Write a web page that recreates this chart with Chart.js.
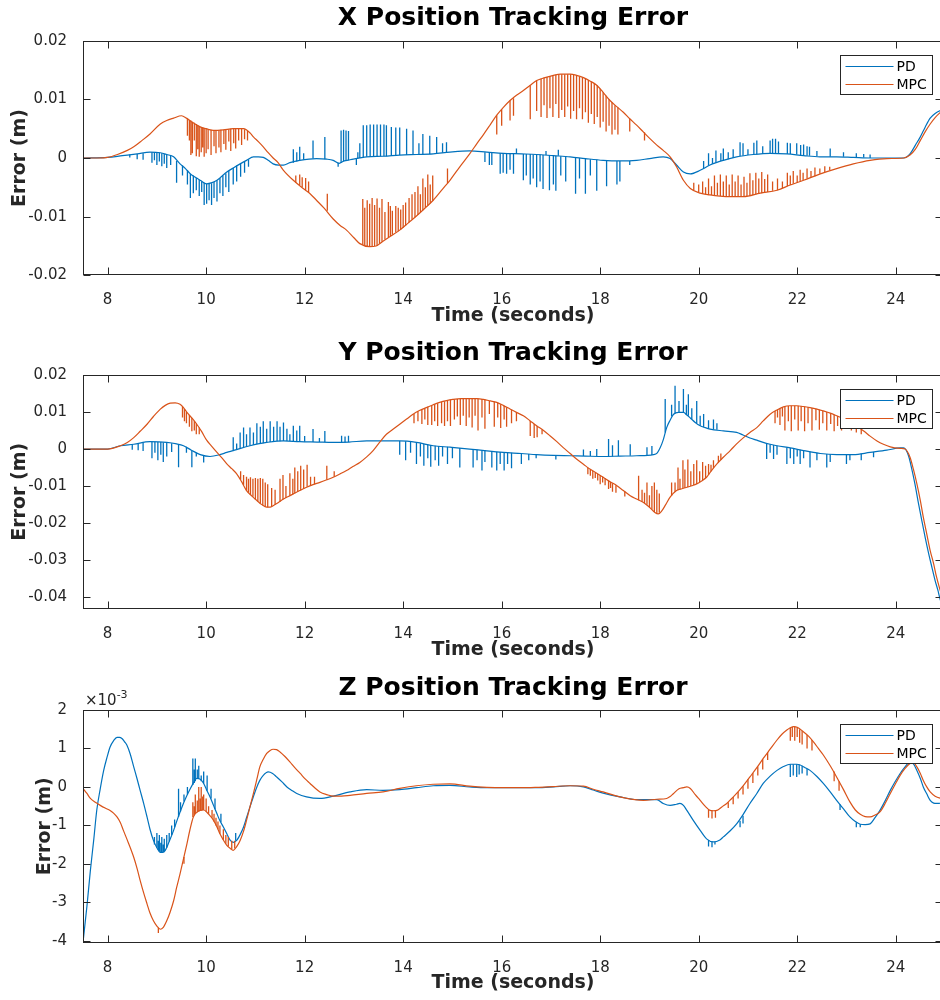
<!DOCTYPE html>
<html>
<head>
<meta charset="utf-8">
<script src="https://cdn.jsdelivr.net/npm/chart.js@4/dist/chart.umd.min.js"></script>
<style>
html,body{margin:0;padding:0;background:#fff;overflow:hidden;width:940px;height:1000px;position:relative}
.pane{position:absolute;left:0;width:944px}
canvas{display:block}
</style>
</head>
<body>
<div class="pane" style="top:0px;height:330px"><canvas id="cX" width="944" height="330"></canvas></div>
<div class="pane" style="top:330px;height:335px"><canvas id="cY" width="944" height="335"></canvas></div>
<div class="pane" style="top:665px;height:335px"><canvas id="cZ" width="944" height="335"></canvas></div>
<script>
// ---------- axis ticks ----------
const timeTicks = [8, 10, 12, 14, 16, 18, 20, 22, 24];
const timeTickLabels = ['8', '10', '12', '14', '16', '18', '20', '22', '24'];
const xErrTicks = [-0.02, -0.01, 0, 0.01, 0.02];
const xErrTickLabels = ['-0.02', '-0.01', '0', '0.01', '0.02'];
const yErrTicks = [-0.04, -0.03, -0.02, -0.01, 0, 0.01, 0.02];
const yErrTickLabels = ['-0.04', '-0.03', '-0.02', '-0.01', '0', '0.01', '0.02'];
const zErrTicks = [-4, -3, -2, -1, 0, 1, 2];           // in units of 1e-3 m
const zErrTickLabels = ['-4', '-3', '-2', '-1', '0', '1', '2'];
const seriesNames = ['PD', 'MPC'];

// ---------- X error (m): [time s, error] ----------
const xPD = [[7.5,0],[8.0,0.0001],[8.3,0.0004],[8.6,0.0007],[8.86,0.001],[9.07,0.0009],[9.2,0.0006],[9.34,0.0002],[9.47,-0.001],[9.58,-0.0018],[9.68,-0.0027],[9.78,-0.0033],[9.88,-0.0038],[10.01,-0.0044],[10.12,-0.0042],[10.22,-0.0038],[10.32,-0.0031],[10.42,-0.0024],[10.55,-0.0017],[10.69,-0.001],[10.82,-0.0004],[10.96,0.0002],[11.06,0.0002],[11.16,0.0001],[11.26,-0.0004],[11.36,-0.001],[11.47,-0.0012],[11.57,-0.0012],[11.7,-0.0008],[11.9,-0.0004],[12.24,-0.0001],[12.45,-0.0002],[12.58,-0.0004],[12.7,-0.0009],[12.8,-0.0005],[12.92,-0.0003],[13.26,0.0002],[13.6,0.0003],[13.93,0.0005],[14.27,0.0006],[14.61,0.0007],[14.95,0.001],[15.35,0.0012],[15.7,0.001],[16.03,0.0008],[16.4,0.0007],[16.71,0.0006],[17.05,0.0004],[17.39,0.0002],[17.7,-0.0001],[18.06,-0.0004],[18.4,-0.0005],[18.74,-0.0004],[19.0,-0.0001],[19.28,0.0002],[19.42,-0.0001],[19.55,-0.0012],[19.69,-0.0024],[19.83,-0.0027],[20.03,-0.0021],[20.23,-0.0012],[20.5,-0.0004],[20.77,0.0002],[21.11,0.0006],[21.45,0.0008],[21.79,0.0007],[22.13,0.0004],[22.46,0.0002],[22.8,0.0002],[23.14,0.0001],[23.48,0],[23.82,0],[24.16,0],[24.29,0.0007],[24.4,0.0022],[24.5,0.0036],[24.6,0.0053],[24.7,0.0068],[24.8,0.0076],[24.96,0.0083]];
// spikes: [time, local level, spike tip]
const xPDSpikes = [[8.45,0.0006,0.0001],[8.6,0.0007,-0.0002],[8.72,0.0008,-0.0003],[8.9,0.001,-0.0008],[8.95,0.001,-0.0004],[9.0,0.001,-0.0012],[9.05,0.0009,-0.0006],[9.1,0.0008,-0.0014],[9.15,0.0007,-0.001],[9.2,0.0006,-0.0017],[9.28,0.0004,-0.0012],[9.4,-0.0005,-0.0042],[9.52,-0.0013,-0.003],[9.62,-0.0021,-0.0045],[9.68,-0.0027,-0.0068],[9.74,-0.003,-0.006],[9.8,-0.0034,-0.0055],[9.86,-0.0037,-0.0065],[9.91,-0.004,-0.0058],[9.96,-0.0042,-0.008],[10.01,-0.0044,-0.0078],[10.06,-0.0043,-0.0072],[10.11,-0.0043,-0.008],[10.16,-0.0041,-0.0068],[10.22,-0.0038,-0.0074],[10.28,-0.0034,-0.006],[10.34,-0.003,-0.0065],[10.4,-0.0026,-0.005],[10.46,-0.0022,-0.0058],[10.55,-0.0017,-0.0045],[10.62,-0.0013,-0.004],[10.7,-0.001,-0.0032],[10.78,-0.0006,-0.0025],[10.86,-0.0002,-0.0015],[11.77,-0.0008,0.0015],[11.84,-0.0006,0.001],[11.9,-0.0004,0.0019],[11.98,-0.0003,0.0008],[12.17,-0.0001,0.003],[12.41,-0.0002,0.0036],[12.68,-0.0008,-0.0015],[12.74,-0.0008,0.0047],[12.79,-0.0006,0.0048],[12.84,-0.0005,0.0047],[12.89,-0.0004,0.0046],[13.05,-0.0001,-0.0012],[13.08,-0.0001,0.001],[13.12,0,0.0025],[13.19,0.0001,0.0056],[13.26,0.0002,0.0056],[13.33,0.0002,0.0057],[13.4,0.0003,0.0057],[13.47,0.0003,0.0057],[13.54,0.0003,0.0057],[13.61,0.0003,0.0057],[13.66,0.0003,0.0056],[13.76,0.0004,0.0053],[13.85,0.0004,0.0052],[13.93,0.0005,0.0052],[14.07,0.0005,0.005],[14.2,0.0006,0.0047],[14.32,0.0006,0.0025],[14.4,0.0006,0.0041],[14.54,0.0007,0.0038],[14.68,0.0008,0.0036],[14.8,0.0009,0.0025],[14.88,0.001,0.0027],[15.66,0.001,-0.0007],[15.75,0.001,-0.0012],[15.8,0.0009,-0.0012],[15.97,0.0008,-0.0027],[16.03,0.0008,-0.0025],[16.1,0.0008,-0.0027],[16.17,0.0008,-0.002],[16.24,0.0008,-0.0027],[16.3,0.0007,0.0016],[16.44,0.0007,-0.0038],[16.5,0.0007,-0.003],[16.58,0.0007,-0.0045],[16.64,0.0006,-0.0035],[16.71,0.0006,-0.005],[16.78,0.0006,-0.004],[16.84,0.0005,-0.0053],[16.9,0.0005,0.0012],[16.97,0.0005,-0.0055],[17.05,0.0004,-0.0045],[17.1,0.0004,-0.0056],[17.15,0.0004,0.0014],[17.2,0.0003,-0.003],[17.3,0.0003,-0.004],[17.5,0.0001,-0.0061],[17.58,0,-0.0035],[17.7,-0.0001,-0.0061],[17.8,-0.0002,-0.003],[17.93,-0.0003,-0.0056],[18.13,-0.0004,-0.0048],[18.34,-0.0005,-0.0045],[18.4,-0.0005,-0.004],[18.6,-0.0005,-0.0012],[20.1,-0.0018,-0.0005],[20.2,-0.0013,0.0008],[20.28,-0.001,0],[20.35,-0.0008,0.0013],[20.45,-0.0005,0.0008],[20.5,-0.0004,0.0016],[20.6,-0.0002,0.001],[20.7,0,0.0015],[20.84,0.0003,0.0027],[20.9,0.0004,0.0025],[21.0,0.0005,0.0015],[21.12,0.0006,0.0026],[21.18,0.0006,0.003],[21.3,0.0007,0.002],[21.45,0.0008,0.003],[21.5,0.0008,0.0033],[21.56,0.0008,0.0033],[21.62,0.0008,0.0028],[21.8,0.0007,0.0026],[21.86,0.0007,0.0025],[21.99,0.0006,0.0025],[22.07,0.0005,0.0022],[22.13,0.0005,0.0023],[22.2,0.0004,0.002],[22.25,0.0004,0.0019],[22.4,0.0003,0.0012],[22.67,0.0002,0.0016],[22.94,0.0002,0.001],[23.2,0.0001,0.0008],[23.35,0.0001,0.0007],[23.48,0,0.0006]];
const xMPC = [[7.5,0],[7.8,0],[8.0,0.0001],[8.2,0.0006],[8.4,0.0013],[8.53,0.0019],[8.7,0.003],[8.86,0.0041],[9.07,0.0058],[9.2,0.0064],[9.34,0.0068],[9.5,0.0072],[9.6,0.0068],[9.7,0.0062],[9.88,0.0053],[10.0,0.005],[10.15,0.0047],[10.35,0.0048],[10.55,0.005],[10.76,0.005],[10.9,0.0042],[10.96,0.0036],[11.06,0.0028],[11.16,0.0019],[11.26,0.0009],[11.36,0],[11.46,-0.0008],[11.57,-0.0021],[11.77,-0.0038],[11.97,-0.0052],[12.1,-0.006],[12.24,-0.0072],[12.4,-0.0086],[12.58,-0.0104],[12.72,-0.0115],[12.85,-0.0123],[13.0,-0.0136],[13.12,-0.0146],[13.32,-0.0151],[13.45,-0.015],[13.59,-0.0142],[13.75,-0.0133],[13.93,-0.0123],[14.1,-0.0111],[14.27,-0.0099],[14.45,-0.0085],[14.61,-0.0072],[14.8,-0.0053],[14.95,-0.0038],[15.15,-0.0015],[15.35,0.0007],[15.5,0.0025],[15.63,0.004],[15.77,0.0057],[15.9,0.0073],[16.03,0.0086],[16.17,0.0098],[16.3,0.0107],[16.44,0.0115],[16.58,0.0124],[16.71,0.0132],[16.88,0.0137],[17.05,0.0141],[17.2,0.0143],[17.39,0.0143],[17.52,0.0141],[17.66,0.0137],[17.8,0.0131],[17.93,0.0124],[18.06,0.0112],[18.2,0.0098],[18.33,0.0088],[18.47,0.0078],[18.6,0.0067],[18.74,0.0056],[18.88,0.0044],[19.01,0.0033],[19.15,0.0022],[19.28,0.0013],[19.42,0.0002],[19.55,-0.0015],[19.69,-0.0038],[19.83,-0.0052],[20.03,-0.006],[20.23,-0.0063],[20.43,-0.0065],[20.64,-0.0066],[20.91,-0.0066],[21.25,-0.006],[21.59,-0.0055],[21.86,-0.0046],[22.13,-0.0038],[22.47,-0.0027],[22.8,-0.0018],[23.14,-0.001],[23.48,-0.0004],[23.82,-0.0001],[24.16,0],[24.29,0.0005],[24.4,0.0015],[24.5,0.003],[24.6,0.0045],[24.7,0.0058],[24.8,0.0069],[24.96,0.0082]];
const xMPCSpikes = [[9.62,0.0067,0.0038],[9.66,0.0065,0.003],[9.69,0.0064,0.0005],[9.72,0.0062,0.0008],[9.76,0.006,0.003],[9.8,0.0058,0.0003],[9.83,0.0056,0.0015],[9.86,0.0054,0.0002],[9.9,0.0053,0.001],[9.93,0.0052,0.0018],[9.96,0.0051,0.0002],[10.0,0.005,0.0008],[10.04,0.0049,0.0015],[10.1,0.0048,0.0005],[10.16,0.0047,0.002],[10.2,0.0047,0.0008],[10.26,0.0047,0.0018],[10.3,0.0048,0.001],[10.36,0.0048,0.0024],[10.4,0.0049,0.0014],[10.46,0.0049,0.0028],[10.5,0.005,0.0012],[10.56,0.005,0.0025],[10.6,0.005,0.0016],[10.66,0.005,0.003],[10.72,0.005,0.0022],[10.78,0.0049,0.0032],[10.84,0.0046,0.003],[11.82,-0.0042,-0.003],[11.9,-0.0046,-0.0028],[11.95,-0.005,-0.0033],[12.02,-0.0055,-0.0034],[12.08,-0.0059,-0.004],[12.46,-0.009,-0.0061],[13.18,-0.0148,-0.007],[13.22,-0.0149,-0.0085],[13.27,-0.015,-0.0072],[13.32,-0.0151,-0.0078],[13.37,-0.0151,-0.0068],[13.42,-0.015,-0.008],[13.47,-0.0149,-0.0069],[13.52,-0.0146,-0.0085],[13.57,-0.0143,-0.007],[13.63,-0.0139,-0.0092],[13.7,-0.0135,-0.0075],[13.74,-0.0133,-0.0082],[13.78,-0.0131,-0.009],[13.85,-0.0127,-0.0082],[13.9,-0.0125,-0.0085],[13.95,-0.0122,-0.0088],[14.0,-0.0119,-0.008],[14.05,-0.0115,-0.0076],[14.12,-0.011,-0.0068],[14.18,-0.0105,-0.0062],[14.24,-0.0101,-0.0058],[14.3,-0.0097,-0.0048],[14.35,-0.0093,-0.0062],[14.4,-0.0089,-0.0035],[14.45,-0.0085,-0.005],[14.5,-0.0081,-0.0028],[14.55,-0.0077,-0.0045],[14.6,-0.0073,-0.003],[14.9,-0.0043,-0.0018],[15.9,0.0073,0.004],[16.0,0.0083,0.0055],[16.17,0.0098,0.0064],[16.24,0.0102,0.0072],[16.58,0.0124,0.0066],[16.71,0.0132,0.008],[16.8,0.0135,0.007],[16.86,0.0137,0.009],[16.92,0.0138,0.0068],[16.98,0.014,0.0085],[17.04,0.0141,0.007],[17.1,0.0142,0.0092],[17.16,0.0142,0.0068],[17.22,0.0143,0.0082],[17.28,0.0143,0.007],[17.34,0.0143,0.0088],[17.4,0.0143,0.0067],[17.46,0.0142,0.008],[17.52,0.0141,0.0066],[17.58,0.0139,0.0085],[17.64,0.0137,0.0066],[17.7,0.0135,0.0078],[17.76,0.0133,0.006],[17.82,0.013,0.0075],[17.88,0.0127,0.0058],[17.94,0.0124,0.007],[18.0,0.0118,0.0052],[18.06,0.0112,0.0062],[18.12,0.0106,0.0045],[18.18,0.01,0.0055],[18.24,0.0095,0.004],[18.3,0.009,0.0048],[18.36,0.0086,0.004],[18.6,0.0067,0.0045],[18.9,0.0044,0.003],[19.9,-0.0055,-0.0042],[20.0,-0.0059,-0.0045],[20.08,-0.0061,-0.004],[20.14,-0.0062,-0.005],[20.2,-0.0063,-0.0035],[20.26,-0.0063,-0.0048],[20.32,-0.0064,-0.003],[20.38,-0.0064,-0.0042],[20.44,-0.0065,-0.0028],[20.5,-0.0065,-0.004],[20.56,-0.0065,-0.003],[20.62,-0.0066,-0.0045],[20.68,-0.0066,-0.0028],[20.74,-0.0066,-0.004],[20.8,-0.0066,-0.003],[20.86,-0.0066,-0.0045],[20.92,-0.0066,-0.0032],[20.98,-0.0065,-0.0042],[21.04,-0.0064,-0.0026],[21.1,-0.0063,-0.0038],[21.16,-0.0062,-0.0025],[21.22,-0.0061,-0.0035],[21.28,-0.006,-0.0024],[21.34,-0.0059,-0.0036],[21.4,-0.0058,-0.0028],[21.5,-0.0056,-0.004],[21.6,-0.0055,-0.0035],[21.7,-0.0051,-0.004],[21.8,-0.0048,-0.0025],[21.86,-0.0046,-0.003],[21.92,-0.0044,-0.0022],[22.0,-0.0042,-0.003],[22.06,-0.004,-0.002],[22.12,-0.0038,-0.0025],[22.2,-0.0035,-0.0018],[22.28,-0.0033,-0.0022],[22.36,-0.0031,-0.0016],[22.46,-0.0027,-0.0018],[22.56,-0.0024,-0.0014],[22.66,-0.0021,-0.0015]];

// ---------- Y error (m) ----------
const yPD = [[7.5,0],[8.0,0],[8.26,0.0009],[8.53,0.0013],[8.86,0.002],[9.2,0.0018],[9.4,0.0014],[9.54,0.0009],[9.7,-0.0003],[9.88,-0.0015],[10.08,-0.002],[10.28,-0.0015],[10.42,-0.0009],[10.55,-0.0004],[10.7,0.0002],[10.89,0.0009],[11.05,0.0014],[11.23,0.0018],[11.57,0.0022],[11.9,0.002],[12.25,0.0019],[12.58,0.0018],[12.9,0.0019],[13.26,0.0022],[13.6,0.0022],[13.93,0.0022],[14.27,0.0018],[14.61,0.0009],[14.95,0.0005],[15.35,0],[15.7,-0.0005],[16.03,-0.0009],[16.4,-0.0012],[16.71,-0.0015],[17.05,-0.0017],[17.39,-0.0018],[17.7,-0.0019],[18.06,-0.002],[18.4,-0.0019],[18.74,-0.0018],[19.08,-0.0015],[19.16,-0.001],[19.22,0.0004],[19.28,0.0025],[19.35,0.0058],[19.42,0.0078],[19.49,0.0094],[19.59,0.0099],[19.69,0.0099],[19.76,0.0092],[19.83,0.0084],[19.93,0.0072],[20.03,0.0063],[20.13,0.0058],[20.23,0.0054],[20.5,0.0049],[20.77,0.0045],[20.9,0.0038],[21.04,0.003],[21.18,0.0024],[21.31,0.0018],[21.45,0.0013],[21.59,0.0009],[21.86,0.0003],[22.13,-0.0004],[22.47,-0.0012],[22.8,-0.0015],[23.14,-0.0015],[23.48,-0.0009],[23.82,-0.0003],[24.09,0.0003],[24.16,0.0003],[24.26,-0.0018],[24.32,-0.005],[24.39,-0.0094],[24.46,-0.0145],[24.53,-0.0193],[24.6,-0.024],[24.67,-0.0283],[24.74,-0.0322],[24.8,-0.0355],[24.86,-0.0383],[24.9,-0.0405],[24.96,-0.0428]];
const yPDSpikes = [[8.5,0.0013,-0.0002],[8.62,0.0015,-0.0003],[8.72,0.0017,-0.0005],[8.9,0.002,-0.0025],[8.96,0.002,-0.001],[9.02,0.0019,-0.003],[9.08,0.0019,-0.0015],[9.13,0.0018,-0.0035],[9.2,0.0018,-0.002],[9.3,0.0016,-0.0008],[9.44,0.0012,-0.0049],[9.6,0.0006,-0.001],[9.71,-0.0004,-0.0049],[9.8,-0.001,-0.002],[9.95,-0.0016,-0.0036],[10.55,-0.0004,0.0032],[10.62,-0.0001,0.0015],[10.69,0.0002,0.0045],[10.76,0.0005,0.0058],[10.82,0.0007,0.004],[10.89,0.0009,0.0058],[10.96,0.0011,0.0045],[11.03,0.0013,0.007],[11.1,0.0015,0.006],[11.16,0.0016,0.0075],[11.23,0.0018,0.0055],[11.3,0.0019,0.0075],[11.37,0.002,0.006],[11.44,0.0021,0.0075],[11.5,0.0021,0.006],[11.57,0.0022,0.0072],[11.64,0.0022,0.0055],[11.7,0.0022,0.004],[11.77,0.0021,0.0063],[11.84,0.0021,0.005],[11.9,0.002,0.0063],[12.0,0.002,0.0035],[12.17,0.0019,0.0054],[12.3,0.0019,0.003],[12.41,0.0019,0.0049],[12.75,0.0018,0.0036],[12.82,0.0018,0.0034],[12.89,0.0019,0.0036],[13.93,0.0022,-0.0015],[14.05,0.0021,-0.003],[14.15,0.002,-0.001],[14.27,0.0018,-0.004],[14.35,0.0016,-0.002],[14.42,0.0014,-0.0045],[14.5,0.0012,-0.0025],[14.56,0.0011,-0.0048],[14.65,0.0009,-0.003],[14.72,0.0008,-0.0045],[14.8,0.0007,-0.002],[14.9,0.0006,-0.004],[15.0,0.0005,-0.0025],[15.15,0.0003,-0.005],[15.42,-0.0001,-0.005],[15.5,-0.0002,-0.003],[15.6,-0.0004,-0.0058],[15.66,-0.0004,-0.0035],[15.8,-0.0006,-0.005],[15.9,-0.0007,-0.0058],[15.97,-0.0008,-0.004],[16.05,-0.0009,-0.0058],[16.12,-0.001,-0.004],[16.2,-0.001,-0.0052],[16.4,-0.0012,-0.004],[16.55,-0.0013,-0.003],[16.7,-0.0015,-0.0025],[17.1,-0.0017,-0.0028],[17.66,-0.0019,-0.0001],[17.8,-0.0019,-0.0005],[17.93,-0.0019,0],[18.17,-0.002,0.0027],[18.25,-0.002,0.001],[18.37,-0.0019,0.0024],[18.61,-0.0018,0.0013],[18.95,-0.0017,0.0005],[19.05,-0.0016,0.0008],[19.32,0.0045,0.0135],[19.45,0.0088,0.012],[19.52,0.0096,0.0171],[19.6,0.0099,0.013],[19.69,0.0099,0.0162],[19.75,0.0093,0.012],[19.79,0.009,0.0148],[19.86,0.0081,0.011],[19.96,0.007,0.013],[20.03,0.0063,0.009],[20.1,0.0059,0.0095],[20.2,0.0055,0.0078],[20.3,0.0053,0.008],[20.37,0.0052,0.007],[21.38,0.0015,-0.0027],[21.45,0.0013,-0.001],[21.52,0.0011,-0.0027],[21.59,0.0009,-0.0015],[21.79,0.0004,-0.004],[21.86,0.0003,-0.0025],[21.93,0.0001,-0.004],[22.0,-0.0001,-0.002],[22.06,-0.0002,-0.004],[22.13,-0.0004,-0.0025],[22.26,-0.0007,-0.005],[22.4,-0.001,-0.003],[22.6,-0.0013,-0.005],[22.67,-0.0014,-0.0035],[23.0,-0.0015,-0.004],[23.07,-0.0015,-0.003],[23.3,-0.0012,-0.003],[23.55,-0.0008,-0.0022]];
const yMPC = [[7.5,0],[8.0,0],[8.26,0.0009],[8.4,0.0018],[8.53,0.0031],[8.66,0.0048],[8.8,0.0067],[8.93,0.0088],[9.07,0.0108],[9.17,0.0118],[9.27,0.0124],[9.37,0.0125],[9.47,0.0121],[9.54,0.0112],[9.61,0.0099],[9.71,0.0084],[9.81,0.0067],[9.91,0.0047],[10.01,0.0024],[10.11,0.0008],[10.22,-0.0009],[10.32,-0.0024],[10.42,-0.004],[10.52,-0.0053],[10.62,-0.0067],[10.72,-0.0088],[10.82,-0.0112],[10.93,-0.0127],[11.03,-0.0139],[11.13,-0.015],[11.23,-0.0157],[11.3,-0.0157],[11.36,-0.0153],[11.46,-0.0145],[11.57,-0.0135],[11.67,-0.0128],[11.77,-0.0121],[11.9,-0.0112],[12.04,-0.0103],[12.17,-0.0096],[12.31,-0.009],[12.45,-0.0083],[12.58,-0.0076],[12.72,-0.0067],[12.85,-0.0058],[12.98,-0.0047],[13.12,-0.0036],[13.26,-0.0021],[13.39,-0.0004],[13.52,0.0018],[13.66,0.004],[13.8,0.0054],[13.93,0.0067],[14.07,0.0081],[14.2,0.0094],[14.33,0.0104],[14.47,0.0112],[14.6,0.0119],[14.74,0.0126],[14.88,0.0131],[15.01,0.0134],[15.18,0.0136],[15.35,0.0136],[15.5,0.0136],[15.63,0.0134],[15.77,0.013],[15.9,0.0126],[16.03,0.0118],[16.17,0.0108],[16.3,0.0099],[16.44,0.009],[16.58,0.0076],[16.71,0.0063],[16.85,0.005],[16.98,0.0036],[17.12,0.002],[17.25,0.0004],[17.39,-0.0012],[17.52,-0.0027],[17.66,-0.0041],[17.79,-0.0054],[17.93,-0.0065],[18.06,-0.0076],[18.2,-0.0088],[18.34,-0.0099],[18.47,-0.0112],[18.61,-0.0126],[18.74,-0.0135],[18.88,-0.0144],[19.0,-0.0157],[19.11,-0.0171],[19.18,-0.0175],[19.25,-0.0167],[19.33,-0.015],[19.42,-0.013],[19.55,-0.0112],[19.66,-0.0107],[19.76,-0.0103],[19.86,-0.0099],[19.96,-0.0094],[20.06,-0.0086],[20.16,-0.0076],[20.26,-0.0058],[20.37,-0.004],[20.5,-0.0022],[20.64,-0.0004],[20.77,0.0014],[20.91,0.0031],[21.04,0.0045],[21.18,0.0058],[21.31,0.0076],[21.45,0.0094],[21.58,0.0105],[21.72,0.0114],[21.85,0.0117],[21.99,0.0117],[22.12,0.0115],[22.26,0.0112],[22.4,0.0108],[22.53,0.0103],[22.67,0.0097],[22.8,0.009],[22.94,0.0082],[23.07,0.0072],[23.21,0.0061],[23.35,0.0049],[23.48,0.0035],[23.62,0.0022],[23.75,0.0013],[23.89,0.0006],[24.09,0.0002],[24.19,0],[24.29,-0.0022],[24.36,-0.0055],[24.43,-0.0094],[24.5,-0.0139],[24.56,-0.0184],[24.63,-0.0229],[24.7,-0.0274],[24.77,-0.031],[24.83,-0.0346],[24.9,-0.038],[24.96,-0.0408]];
const yMPCSpikes = [[9.52,0.0115,0.0085],[9.56,0.0108,0.0075],[9.6,0.01,0.007],[9.66,0.0092,0.006],[9.71,0.0084,0.0048],[9.76,0.0076,0.005],[9.8,0.0069,0.004],[9.86,0.0058,0.004],[10.7,-0.0083,-0.006],[10.76,-0.0097,-0.007],[10.82,-0.0112,-0.0075],[10.86,-0.0118,-0.008],[10.9,-0.0124,-0.0076],[10.95,-0.0129,-0.008],[11.0,-0.0136,-0.0078],[11.05,-0.0141,-0.008],[11.1,-0.0147,-0.0078],[11.15,-0.0152,-0.008],[11.2,-0.0156,-0.009],[11.25,-0.0157,-0.0095],[11.33,-0.0155,-0.0105],[11.4,-0.015,-0.011],[11.5,-0.0142,-0.008],[11.56,-0.0136,-0.007],[11.62,-0.0132,-0.01],[11.7,-0.0126,-0.0065],[11.76,-0.0122,-0.008],[11.8,-0.0119,-0.005],[11.86,-0.0115,-0.006],[11.92,-0.0111,-0.0045],[11.98,-0.0107,-0.0055],[12.05,-0.0102,-0.0042],[12.12,-0.0099,-0.0075],[12.2,-0.0095,-0.0075],[12.45,-0.0083,-0.0045],[12.6,-0.0075,-0.006],[14.22,0.0095,0.007],[14.3,0.0102,0.0075],[14.38,0.0107,0.0068],[14.44,0.011,0.008],[14.5,0.0114,0.0065],[14.58,0.0118,0.0065],[14.64,0.0121,0.0075],[14.7,0.0124,0.0062],[14.78,0.0127,0.007],[14.84,0.0129,0.0062],[14.9,0.0131,0.0075],[14.96,0.0133,0.0062],[15.04,0.0134,0.008],[15.1,0.0135,0.0088],[15.16,0.0136,0.0065],[15.22,0.0136,0.009],[15.28,0.0136,0.0062],[15.34,0.0136,0.0085],[15.4,0.0136,0.0058],[15.46,0.0136,0.009],[15.52,0.0136,0.005],[15.6,0.0135,0.0085],[15.66,0.0134,0.0055],[15.75,0.013,0.0095],[15.85,0.0128,0.006],[15.92,0.0125,0.0085],[15.98,0.0121,0.0057],[16.05,0.0117,0.008],[16.1,0.0113,0.006],[16.2,0.0106,0.007],[16.3,0.0099,0.0075],[16.58,0.0076,0.0035],[16.66,0.0068,0.003],[16.72,0.0062,0.0032],[16.82,0.0053,0.004],[17.75,-0.005,-0.0068],[17.8,-0.0055,-0.0072],[17.85,-0.0059,-0.008],[17.9,-0.0063,-0.0078],[17.95,-0.0067,-0.0085],[18.0,-0.0071,-0.0095],[18.05,-0.0075,-0.009],[18.1,-0.0079,-0.0098],[18.17,-0.0085,-0.0108],[18.21,-0.0088,-0.0105],[18.25,-0.0092,-0.0115],[18.32,-0.0098,-0.0118],[18.5,-0.0114,-0.0128],[18.78,-0.0138,-0.0072],[18.85,-0.0142,-0.011],[18.9,-0.0146,-0.0118],[18.95,-0.015,-0.009],[19.0,-0.0157,-0.0125],[19.05,-0.0163,-0.01],[19.1,-0.017,-0.009],[19.15,-0.0173,-0.011],[19.2,-0.0172,-0.012],[19.45,-0.0126,-0.009],[19.52,-0.0116,-0.009],[19.58,-0.0111,-0.005],[19.62,-0.0109,-0.008],[19.68,-0.0106,-0.003],[19.72,-0.0105,-0.0055],[19.78,-0.0103,-0.0028],[19.84,-0.01,-0.006],[19.9,-0.0097,-0.004],[19.96,-0.0094,-0.003],[20.02,-0.0089,-0.006],[20.08,-0.0084,-0.0035],[20.14,-0.0078,-0.0045],[20.2,-0.007,-0.004],[20.25,-0.006,-0.0042],[20.3,-0.0052,-0.003],[20.4,-0.0036,-0.0018],[20.45,-0.0029,-0.0012],[21.55,0.0103,0.007],[21.6,0.0107,0.0085],[21.65,0.011,0.0065],[21.7,0.0112,0.0088],[21.75,0.0114,0.005],[21.82,0.0116,0.0075],[21.88,0.0117,0.0048],[21.95,0.0117,0.008],[22.02,0.0117,0.005],[22.08,0.0116,0.0075],[22.15,0.0115,0.0048],[22.22,0.0113,0.007],[22.3,0.0111,0.005],[22.38,0.0109,0.0078],[22.45,0.0106,0.0052],[22.52,0.0103,0.007],[22.6,0.01,0.005],[22.68,0.0097,0.0068],[22.75,0.0093,0.0048],[22.82,0.0089,0.0062],[22.9,0.0085,0.005],[23.0,0.0077,0.0058],[23.1,0.007,0.005],[23.2,0.0062,0.0045],[23.3,0.0053,0.004]];

// ---------- Z error (units of 1e-3 m, as on the axis) ----------
const zPD = [[7.5,-4.04],[7.58,-3.1],[7.65,-2.17],[7.72,-1.35],[7.78,-0.6],[7.85,-0.05],[7.92,0.43],[7.99,0.78],[8.05,1.04],[8.12,1.2],[8.19,1.29],[8.24,1.29],[8.29,1.26],[8.34,1.18],[8.39,1.09],[8.46,0.85],[8.53,0.52],[8.6,0.2],[8.66,-0.09],[8.73,-0.42],[8.8,-0.78],[8.86,-1.1],[8.93,-1.39],[9.0,-1.58],[9.07,-1.7],[9.12,-1.7],[9.17,-1.65],[9.25,-1.42],[9.34,-1.13],[9.42,-0.83],[9.51,-0.52],[9.6,-0.25],[9.68,-0.04],[9.75,0.12],[9.81,0.22],[9.88,0.2],[9.95,0.09],[10.01,-0.08],[10.08,-0.26],[10.15,-0.48],[10.22,-0.7],[10.28,-0.88],[10.35,-1.04],[10.42,-1.22],[10.49,-1.39],[10.55,-1.44],[10.62,-1.39],[10.69,-1.24],[10.76,-1.04],[10.82,-0.8],[10.89,-0.52],[10.96,-0.25],[11.03,0],[11.09,0.17],[11.16,0.3],[11.26,0.39],[11.35,0.35],[11.43,0.26],[11.54,0.13],[11.64,0],[11.74,-0.09],[11.84,-0.17],[12.04,-0.26],[12.31,-0.3],[12.58,-0.24],[12.92,-0.13],[13.26,-0.07],[13.59,-0.09],[13.93,-0.07],[14.27,-0.02],[14.61,0.03],[14.95,0.04],[15.35,0],[15.7,-0.02],[16.03,-0.02],[16.4,-0.02],[16.71,-0.02],[17.05,0],[17.39,0.03],[17.66,0],[17.86,-0.08],[18.06,-0.16],[18.4,-0.26],[18.74,-0.33],[19.15,-0.33],[19.28,-0.43],[19.42,-0.48],[19.55,-0.45],[19.62,-0.43],[19.69,-0.48],[19.76,-0.61],[19.89,-0.87],[20.03,-1.13],[20.16,-1.35],[20.3,-1.43],[20.43,-1.38],[20.5,-1.3],[20.64,-1.14],[20.77,-0.96],[20.91,-0.7],[21.04,-0.43],[21.18,-0.17],[21.31,0.09],[21.45,0.28],[21.59,0.43],[21.72,0.53],[21.86,0.59],[21.99,0.59],[22.06,0.57],[22.16,0.5],[22.26,0.43],[22.4,0.27],[22.53,0.09],[22.67,-0.13],[22.8,-0.35],[22.94,-0.57],[23.07,-0.78],[23.18,-0.9],[23.28,-0.97],[23.38,-0.98],[23.48,-0.96],[23.58,-0.8],[23.68,-0.61],[23.79,-0.35],[23.89,-0.09],[23.99,0.14],[24.09,0.35],[24.19,0.52],[24.29,0.65],[24.36,0.6],[24.43,0.43],[24.5,0.22],[24.56,0],[24.63,-0.18],[24.7,-0.35],[24.77,-0.42],[24.83,-0.43],[24.96,-0.42]];
const zPDSpikes = [[8.95,-1.5,-1.3],[9.0,-1.58,-1.2],[9.03,-1.64,-1.4],[9.05,-1.68,-1.25],[9.08,-1.7,-1.45],[9.1,-1.7,-1.3],[9.13,-1.69,-1.5],[9.15,-1.67,-1.35],[9.2,-1.58,-1.25],[9.25,-1.42,-1.2],[9.3,-1.25,-1.0],[9.36,-1.05,-0.85],[9.44,-0.78,-0.05],[9.48,-0.64,-0.4],[9.55,-0.38,-0.2],[9.62,-0.2,0.0],[9.73,0.05,0.74],[9.76,0.1,0.45],[9.78,0.15,0.74],[9.82,0.22,0.45],[9.85,0.22,0.55],[9.9,0.15,0.3],[9.95,0.09,0.4],[10.02,-0.1,0.3],[10.1,-0.3,-0.05],[10.18,-0.58,-0.3],[10.3,-0.92,-0.7],[10.6,-1.4,-1.2],[20.2,-1.38,-1.55],[20.27,-1.42,-1.57],[20.33,-1.43,-1.5],[20.84,-0.88,-1.05],[20.9,-0.75,-0.95],[21.86,0.59,0.26],[21.92,0.59,0.3],[21.99,0.59,0.26],[22.04,0.58,0.32],[22.1,0.55,0.35],[22.2,0.47,0.3],[22.87,-0.45,-0.6],[23.2,-0.92,-1.05],[23.28,-0.97,-1.05]];
const zMPC = [[7.5,-0.04],[7.58,-0.17],[7.65,-0.3],[7.75,-0.4],[7.85,-0.48],[7.95,-0.55],[8.05,-0.61],[8.12,-0.68],[8.19,-0.78],[8.26,-0.93],[8.32,-1.13],[8.42,-1.45],[8.53,-1.83],[8.6,-2.13],[8.66,-2.43],[8.73,-2.75],[8.8,-3.04],[8.86,-3.28],[8.93,-3.48],[9.0,-3.62],[9.07,-3.7],[9.13,-3.65],[9.2,-3.48],[9.27,-3.25],[9.34,-2.96],[9.4,-2.62],[9.47,-2.26],[9.54,-1.87],[9.61,-1.48],[9.67,-1.12],[9.74,-0.78],[9.81,-0.66],[9.88,-0.61],[9.95,-0.6],[10.01,-0.65],[10.08,-0.75],[10.15,-0.87],[10.22,-1.04],[10.28,-1.22],[10.35,-1.38],[10.42,-1.52],[10.49,-1.6],[10.55,-1.65],[10.62,-1.55],[10.69,-1.39],[10.76,-1.15],[10.82,-0.87],[10.89,-0.52],[10.96,-0.17],[11.03,0.2],[11.09,0.52],[11.16,0.72],[11.23,0.87],[11.3,0.95],[11.36,0.98],[11.43,0.97],[11.5,0.91],[11.6,0.79],[11.7,0.65],[11.8,0.5],[11.91,0.35],[12.01,0.21],[12.11,0.09],[12.21,-0.03],[12.31,-0.13],[12.45,-0.2],[12.58,-0.24],[12.75,-0.24],[12.92,-0.22],[13.26,-0.17],[13.59,-0.13],[13.93,-0.04],[14.27,0.03],[14.61,0.07],[14.95,0.08],[15.35,0.02],[15.7,-0.01],[16.03,-0.02],[16.4,-0.02],[16.71,-0.01],[17.05,0.01],[17.39,0.03],[17.66,0.02],[17.86,-0.06],[18.06,-0.13],[18.47,-0.28],[18.88,-0.35],[19.15,-0.32],[19.35,-0.3],[19.42,-0.25],[19.49,-0.17],[19.6,-0.05],[19.69,-0.02],[19.76,0],[19.83,-0.04],[19.93,-0.2],[20.03,-0.35],[20.13,-0.5],[20.23,-0.61],[20.3,-0.62],[20.37,-0.61],[20.47,-0.52],[20.57,-0.43],[20.67,-0.3],[20.77,-0.17],[20.91,0.04],[21.04,0.26],[21.18,0.5],[21.31,0.74],[21.45,0.98],[21.59,1.22],[21.69,1.37],[21.79,1.48],[21.86,1.54],[21.93,1.57],[22.0,1.55],[22.13,1.43],[22.23,1.32],[22.33,1.17],[22.43,1.0],[22.53,0.83],[22.67,0.55],[22.8,0.26],[22.94,-0.07],[23.07,-0.39],[23.18,-0.6],[23.28,-0.71],[23.38,-0.77],[23.48,-0.78],[23.58,-0.73],[23.68,-0.65],[23.79,-0.42],[23.89,-0.17],[23.99,0.07],[24.09,0.3],[24.19,0.48],[24.29,0.61],[24.36,0.63],[24.43,0.52],[24.5,0.35],[24.56,0.17],[24.63,0],[24.7,-0.13],[24.8,-0.24],[24.9,-0.29],[24.96,-0.3]];
const zMPCSpikes = [[9.03,-3.66,-3.8],[9.55,-1.82,-2.0],[9.73,-0.78,-0.4],[9.76,-0.74,-0.5],[9.78,-0.7,-0.2],[9.82,-0.66,-0.35],[9.85,-0.64,0],[9.88,-0.61,-0.3],[9.9,-0.61,0],[9.93,-0.6,-0.25],[9.95,-0.6,-0.2],[10.0,-0.64,-0.3],[10.05,-0.7,-0.5],[10.12,-0.8,-0.6],[10.16,-0.9,-0.7],[10.2,-1.0,-0.8],[10.24,-1.1,-0.9],[10.28,-1.22,-1.0],[10.35,-1.38,-1.1],[10.4,-1.48,-1.25],[10.45,-1.55,-1.3],[10.52,-1.62,-1.4],[10.58,-1.6,-1.4],[20.2,-0.6,-0.8],[20.27,-0.62,-0.82],[20.34,-0.62,-0.8],[20.6,-0.4,-0.55],[20.7,-0.26,-0.45],[20.8,-0.13,-0.3],[20.9,0.02,-0.2],[21.0,0.2,-0.05],[21.1,0.36,0.1],[21.2,0.53,0.3],[21.3,0.72,0.45],[21.4,0.9,0.7],[21.86,1.54,1.2],[21.9,1.56,1.3],[21.95,1.57,1.2],[22.0,1.55,1.3],[22.05,1.5,1.15],[22.1,1.46,1.1],[22.2,1.35,1.0],[22.3,1.22,0.95],[22.75,0.4,0.15],[22.85,0.15,-0.1]];

// ---------- helpers ----------
const seriesColors = ['#0072BD', '#D95319'];
const AX = '#262626';
const FONT = '"DejaVu Sans", "Liberation Sans", sans-serif';
const toPts = arr => arr.map(p => ({x: p[0], y: p[1]}));
const toSpikePts = arr => {
  const out = [];
  arr.slice().sort((a, b) => a[0] - b[0]).forEach(s => { out.push({x: s[0], y: s[1]}, {x: s[0], y: s[2]}, {x: s[0], y: null}); });
  return out;
};

const matlabBox = {
  id: 'matlabBox',
  afterDraw(chart, args, opts) {
    const {ctx, chartArea: a, scales: {x, y}} = chart;
    ctx.save();
    ctx.strokeStyle = AX;
    ctx.lineWidth = 1;
    const L = Math.round(a.left) + 0.5, R = Math.round(a.right) - 0.5;
    const T = Math.round(a.top) + 0.5, B = Math.round(a.bottom) - 0.5;
    ctx.strokeRect(L, T, R - L, B - T);
    const TL = 7;
    ctx.beginPath();
    x.ticks.forEach(tk => {
      const px = Math.round(x.getPixelForValue(tk.value)) + 0.5;
      ctx.moveTo(px, B); ctx.lineTo(px, B - TL);
      ctx.moveTo(px, T); ctx.lineTo(px, T + TL);
    });
    y.ticks.forEach(tk => {
      const py = Math.round(y.getPixelForValue(tk.value)) + 0.5;
      ctx.moveTo(L, py); ctx.lineTo(L + TL, py);
      ctx.moveTo(R, py); ctx.lineTo(R - TL, py);
    });
    ctx.stroke();

    // legend box (top-right, inside axes)
    const bw = 92, bh = 39;
    const bx = Math.round(R - 103) + 0.5, by = Math.round(T + 13) + 0.5;
    ctx.fillStyle = '#ffffff';
    ctx.fillRect(bx, by, bw, bh);
    ctx.strokeStyle = AX;
    ctx.lineWidth = 1;
    ctx.strokeRect(bx, by, bw, bh);
    ctx.font = '14px ' + FONT;
    ctx.textBaseline = 'middle';
    ctx.textAlign = 'left';
    for (let i = 0; i < seriesNames.length; i++) {
      const ly = Math.round(by + 10 + i * 18) + 0.5;
      ctx.beginPath();
      ctx.strokeStyle = seriesColors[i];
      ctx.lineWidth = 1.2;
      ctx.moveTo(bx + 5, ly);
      ctx.lineTo(bx + 53, ly);
      ctx.stroke();
      ctx.fillStyle = '#000000';
      ctx.fillText(seriesNames[i], bx + 56, ly + 0.5);
    }

    if (opts && opts.exponent) {
      ctx.fillStyle = AX;
      ctx.textBaseline = 'alphabetic';
      ctx.font = '15px ' + FONT;
      ctx.fillText('\u00D710', a.left + 2, a.top - 5);
      const w = ctx.measureText('\u00D710').width;
      ctx.font = '11px ' + FONT;
      ctx.fillText('-3', a.left + 2 + w, a.top - 12);
    }
    ctx.restore();
  }
};

function makeChart(id, cfg) {
  const H = cfg.height;
  return new Chart(document.getElementById(id), {
    type: 'line',
    data: {
      datasets: [
        {label: seriesNames[0], data: toPts(cfg.pd), borderColor: seriesColors[0], borderWidth: 1.2, pointRadius: 0, fill: false, cubicInterpolationMode: 'monotone', order: 2},
        {label: seriesNames[0] + ' (spikes)', data: toSpikePts(cfg.pdSpikes), borderColor: seriesColors[0], borderWidth: 1.3, pointRadius: 0, fill: false, spanGaps: false, tension: 0, order: 2},
        {label: seriesNames[1], data: toPts(cfg.mpc), borderColor: seriesColors[1], borderWidth: 1.2, pointRadius: 0, fill: false, cubicInterpolationMode: 'monotone', order: 1},
        {label: seriesNames[1] + ' (spikes)', data: toSpikePts(cfg.mpcSpikes), borderColor: seriesColors[1], borderWidth: 1.3, pointRadius: 0, fill: false, spanGaps: false, tension: 0, order: 1}
      ]
    },
    options: {
      responsive: false,
      animation: false,
      events: [],
      layout: {padding: {left: 0, right: 1, top: 0, bottom: 0}},
      scales: {
        x: {
          type: 'linear', position: 'bottom', min: 7.5, max: 24.96,
          grid: {display: false}, border: {display: false},
          afterBuildTicks: s => { s.ticks = timeTicks.map(v => ({value: v})); },
          afterFit: s => { s.height = H - cfg.bottom; },
          ticks: {autoSkip: false, maxRotation: 0, padding: 8.1, color: AX, font: {family: FONT, size: 15},
                  callback: (v, i) => timeTickLabels[i]},
          title: {display: true, text: 'Time (seconds)', color: AX, font: {family: FONT, size: 19, weight: 'bold'},
                  padding: {top: 0, bottom: cfg.xTitlePad}}
        },
        y: {
          type: 'linear', position: 'left', min: cfg.ymin, max: cfg.ymax,
          grid: {display: false}, border: {display: false},
          afterBuildTicks: s => { s.ticks = cfg.yTicks.map(v => ({value: v})); },
          afterFit: s => { s.width = 83; },
          ticks: {autoSkip: false, padding: 8, color: AX, font: {family: FONT, size: 15},
                  callback: (v, i) => cfg.yLabels[i]},
          title: {display: true, text: 'Error (m)', color: AX, font: {family: FONT, size: 19, weight: 'bold'},
                  padding: {top: cfg.yTitlePad, bottom: 0}}
        }
      },
      plugins: {
        legend: {display: false},
        tooltip: {enabled: false},
        title: {display: true, text: cfg.title, fullSize: false, color: '#000',
                font: {family: FONT, size: 25, weight: 'bold', lineHeight: 1.2},
                padding: {top: cfg.titleTop, bottom: cfg.titleBottom}},
        matlabBox: {exponent: !!cfg.exponent}
      }
    },
    plugins: [matlabBox]
  });
}

makeChart('cX', {height: 330, bottom: 275.3, title: 'X Position Tracking Error', titleTop: 3.7, titleBottom: 7.0,
  xTitlePad: 2.6, yTitlePad: 8.6, ymin: -0.02, ymax: 0.02, yTicks: xErrTicks, yLabels: xErrTickLabels,
  pd: xPD, pdSpikes: xPDSpikes, mpc: xMPC, mpcSpikes: xMPCSpikes});
makeChart('cY', {height: 335, bottom: 278.7, title: 'Y Position Tracking Error', titleTop: 8.7, titleBottom: 6.3,
  xTitlePad: 3.9, yTitlePad: 8.6, ymin: -0.0431, ymax: 0.02, yTicks: yErrTicks, yLabels: yErrTickLabels,
  pd: yPD, pdSpikes: yPDSpikes, mpc: yMPC, mpcSpikes: yMPCSpikes});
makeChart('cZ', {height: 335, bottom: 277.7, title: 'Z Position Tracking Error', titleTop: 8.7, titleBottom: 6.3,
  xTitlePad: 5.6, yTitlePad: 33.7, ymin: -4.05, ymax: 2, yTicks: zErrTicks, yLabels: zErrTickLabels, exponent: true,
  pd: zPD, pdSpikes: zPDSpikes, mpc: zMPC, mpcSpikes: zMPCSpikes});
</script>
</body>
</html>
